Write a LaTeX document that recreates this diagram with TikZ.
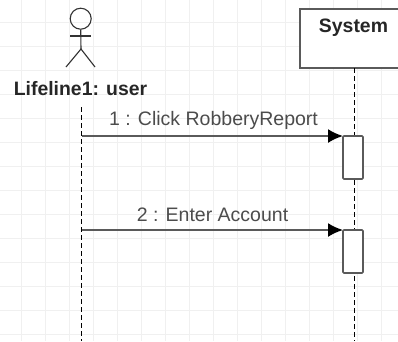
\documentclass[tikz,border=0pt]{standalone}
\usepackage{fontspec}
\setmainfont{Liberation Sans}
\usetikzlibrary{arrows.meta}
\definecolor{ln}{HTML}{5A5A5A}
\definecolor{gridc}{HTML}{F0F0F0}
\tikzset{
  px/.style={x=1pt,y=-1pt},
  lifeline/.style={draw=black,line width=1.5pt,dash pattern=on 4.5pt off 3.5pt},
  activation/.style={draw=ln,fill=white,line width=1.6pt,rounded corners=1pt,minimum width=20pt,minimum height=43pt,inner sep=0pt,outer sep=0pt},
  msg/.style={draw=ln,line width=1.9pt,-{Latex[black,length=15pt,width=14pt]}},
  label/.style={inner sep=0pt,text=black!70,font=\fontsize{19.5pt}{22pt}\selectfont},
  titlelbl/.style={inner sep=0pt,text=black!85,font=\bfseries\fontsize{19.4pt}{22pt}\selectfont},
  stick/.style={draw=black!80,line width=1.1pt}
}
\begin{document}
\begin{tikzpicture}[px]
\useasboundingbox (0,0) rectangle (398,341);
\fill[white] (0,0) rectangle (398,341);
\foreach \g in {21,45,...,400} \draw[gridc,line width=.6pt] (\g,0) -- (\g,341);
\foreach \g in {22,46,...,341} \draw[gridc,line width=.6pt] (0,\g) -- (398,\g);
% actor
\node[draw=black!80,line width=1.1pt,circle,minimum size=21pt,inner sep=0pt] (head) at (80.7,18.7) {};
\coordinate (hip) at (81,49);
\coordinate (armL) at (70,36);
\coordinate (armR) at (91,36);
\coordinate (footL) at (66,67);
\coordinate (footR) at (95,67);
\draw[stick] (head.south) -- (hip);
\draw[stick] (armL) -- (armR);
\draw[stick] (footL) -- (hip) -- (footR);
\node[titlelbl] (lbl) at (80.5,88.5) {Lifeline1: user};
% system
\node[draw=ln,fill=white,line width=1.7pt,minimum width=120pt,minimum height=59pt,inner sep=0pt,anchor=north west] (sys) at (299,8) {};
\node[titlelbl] (systxt) at (353.5,27.5) {System};
% lifelines
\coordinate (u0) at (81.5,107);
\coordinate (u1) at (81.5,341);
\coordinate (s0) at (354.5,68);
\coordinate (s1) at (354.5,341);
\draw[lifeline] (u0) -- (u1);
\draw[lifeline] (s0) -- (s1);
% activations
\node[activation,anchor=north] (a1) at (353,136) {};
\node[activation,anchor=north] (a2) at (353,230) {};
% messages
\coordinate (m1) at (82,136);
\coordinate (m2) at (82,230);
\draw[msg] (m1) -- (a1.north west);
\draw[msg] (m2) -- (a2.north west);
\node[label] (l1) at (213.5,120.5) {1 : Click RobberyReport};
\node[label] (l2) at (212.5,215) {2 : Enter Account};
\end{tikzpicture}
\end{document}
